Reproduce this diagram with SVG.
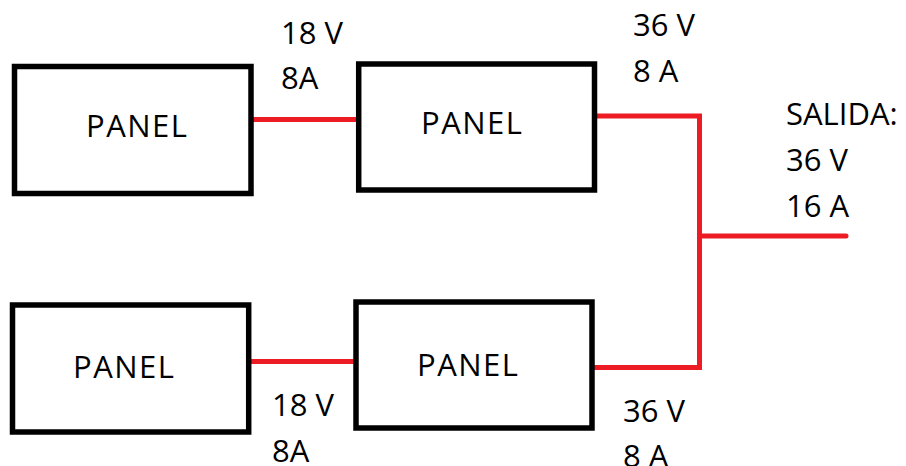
<svg xmlns="http://www.w3.org/2000/svg" width="906" height="466" viewBox="0 0 906 466">
  <style>
    .box { fill: #ffffff; stroke: #000000; stroke-width: 5.5; }
    .wire { fill: none; stroke: #ED1C24; stroke-width: 5; stroke-linecap: round; stroke-linejoin: miter; }
    .lbl { font-family: "Open Sans", "Liberation Sans", sans-serif; font-size: 31px; fill: #000000; }
    .name { letter-spacing: 1.5px; }
  </style>
  <rect width="906" height="466" fill="#ffffff"/>

  <!-- wiring -->
  <g id="connectors">
    <path class="wire" d="M251 119.5 H359"/>
    <path class="wire" d="M249 361.5 H356"/>
    <path class="wire" d="M595 116 H699.5 V367.5 H595"/>
    <path class="wire" d="M699.5 236 H846"/>
  </g>

  <g id="panel-top-left">
    <rect class="box" x="14.5" y="66.5" width="236.5" height="127"/>
    <text class="lbl name" x="86" y="137">PANEL</text>
  </g>
  <g id="panel-top-right">
    <rect class="box" x="358.7" y="64" width="235.8" height="126"/>
    <text class="lbl name" x="421" y="134">PANEL</text>
  </g>
  <g id="panel-bottom-left">
    <rect class="box" x="12.5" y="305" width="236.2" height="127"/>
    <text class="lbl name" x="73" y="378">PANEL</text>
  </g>
  <g id="panel-bottom-right">
    <rect class="box" x="356" y="302" width="236" height="126"/>
    <text class="lbl name" x="417" y="376">PANEL</text>
  </g>

  <!-- ratings -->
  <g id="labels">
    <text class="lbl" x="281" y="44">18 V</text>
    <text class="lbl" x="281" y="89">8A</text>
    <text class="lbl" x="633" y="36">36 V</text>
    <text class="lbl" x="633" y="81.5">8 A</text>
    <text class="lbl" x="786" y="125">SALIDA:</text>
    <text class="lbl" x="786" y="170.5">36 V</text>
    <text class="lbl" x="786" y="216.5">16 A</text>
    <text class="lbl" x="272" y="416">18 V</text>
    <text class="lbl" x="272" y="461.5">8A</text>
    <text class="lbl" x="623" y="421.5">36 V</text>
    <text class="lbl" x="623" y="467">8 A</text>
  </g>
</svg>
